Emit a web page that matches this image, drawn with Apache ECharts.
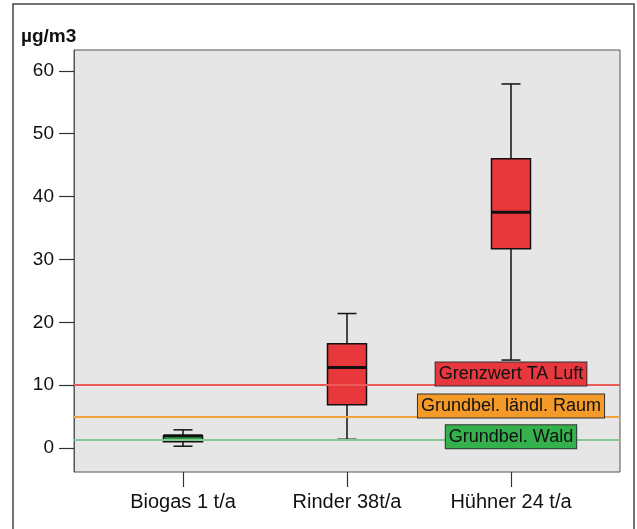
<!DOCTYPE html>
<html lang="de" style="height: 100%">
<head>
  <meta charset="utf-8">
</head>
<body style="height: 100%; margin: 0; background: #fff">
  <div id="container" style="height: 100%"></div>
  <script type="text/javascript" src="https://fastly.jsdelivr.net/npm/echarts@6/dist/echarts.min.js"></script>
  <script type="text/javascript">
    // categories and box values [min, Q1, median, Q3, max]
    const categories = ['Biogas 1 t/a', 'Rinder 38t/a', 'Hühner 24 t/a'];
    const boxValues = [
      [0.3, 1.0, 1.95, 1.95, 2.9],
      [1.4, 6.9, 12.8, 16.6, 21.4],
      [14, 31.7, 37.5, 46, 57.9]
    ];
    const boxColors = ['#2c9c40', '#e8383c', '#e8383c'];
    const yTicks = [0, 10, 20, 30, 40, 50, 60];

    // reference lines and their labels
    const refValues = [10, 5, 1.3];
    const refColors = ['#ec5a5a', '#f2a23a', '#86c994'];
    const refNames = ['Grenzwert TA Luft', 'Grundbel. ländl. Raum', 'Grundbel. Wald'];
    const refLabelY = [11.8, 6.7, 1.8];
    const refLabelBg = ['#e8383f', '#f39a28', '#34b04c'];

    var dom = document.getElementById('container');
    var myChart = echarts.init(dom, null, { renderer: 'canvas' });

    const yMin = -3.8, yMax = 63.3;
    const boxW = 39, capW = 19;
    const font = 'Liberation Sans, Arial';

    function renderBox(params, api) {
      const idx = api.value(0);
      const v = [1, 2, 3, 4, 5].map(d => api.value(d));
      const p = v.map(val => api.coord([idx, val]));
      const cx = p[0][0];
      const line = { stroke: '#111', lineWidth: 1.5 };
      return {
        type: 'group',
        children: [
          // whiskers
          { type: 'line', shape: { x1: cx, y1: p[0][1], x2: cx, y2: p[1][1] }, style: line },
          { type: 'line', shape: { x1: cx, y1: p[3][1], x2: cx, y2: p[4][1] }, style: line },
          { type: 'line', shape: { x1: cx - capW / 2, y1: p[0][1], x2: cx + capW / 2, y2: p[0][1] }, style: line },
          { type: 'line', shape: { x1: cx - capW / 2, y1: p[4][1], x2: cx + capW / 2, y2: p[4][1] }, style: line },
          // box
          {
            type: 'rect',
            shape: { x: cx - boxW / 2, y: p[3][1], width: boxW, height: p[1][1] - p[3][1] },
            style: { fill: boxColors[params.dataIndex], stroke: '#111', lineWidth: 1.5 }
          },
          // median
          { type: 'line', shape: { x1: cx - boxW / 2, y1: p[2][1], x2: cx + boxW / 2, y2: p[2][1] }, style: { stroke: '#111', lineWidth: 3 } }
        ]
      };
    }

    var option = {
      animation: false,
      graphic: [{
        type: 'rect',
        shape: { x: 13, y: 4, width: 621, height: 540 },
        style: { fill: 'none', stroke: '#444', lineWidth: 1.5 },
        z: -10
      }],
      title: {
        text: 'µg/m3',
        left: 16,
        top: 22,
        textStyle: { fontFamily: font, fontSize: 19, fontWeight: 'bold', color: '#111' }
      },
      grid: [
        { left: 74, right: 17, top: 50, bottom: 57, show: true, backgroundColor: '#e6e6e6', borderColor: '#555', borderWidth: 1 },
        { left: 101, right: 44, top: 50, bottom: 57 }
      ],
      xAxis: [
        { gridIndex: 0, type: 'value', min: 0, max: 1, show: false },
        {
          gridIndex: 1,
          type: 'category',
          data: categories,
          axisLine: { show: false, onZero: false },
          axisTick: { show: true, length: 15, alignWithLabel: true, lineStyle: { color: '#333', width: 1.2 } },
          axisLabel: { margin: 20, fontSize: 20, color: '#111', fontFamily: font }
        }
      ],
      yAxis: [
        {
          gridIndex: 0,
          type: 'value',
          min: yMin,
          max: yMax,
          splitLine: { show: false },
          axisLine: { show: true, lineStyle: { color: '#555' } },
          axisTick: { show: true, length: 15, customValues: yTicks, lineStyle: { color: '#333', width: 1.2 } },
          axisLabel: { margin: 20, fontSize: 19, color: '#111', customValues: yTicks, fontFamily: font }
        },
        { gridIndex: 1, type: 'value', min: yMin, max: yMax, show: false }
      ],
      series: [
        {
          type: 'line',
          xAxisIndex: 0,
          yAxisIndex: 0,
          data: [],
          markLine: {
            silent: true,
            symbol: 'none',
            label: { show: false },
            data: refValues.map((v, i) => ({
              yAxis: v,
              lineStyle: { color: refColors[i], width: 2, type: 'solid' }
            }))
          }
        },
        {
          type: 'custom',
          xAxisIndex: 1,
          yAxisIndex: 1,
          renderItem: renderBox,
          encode: { x: 0, y: [1, 2, 3, 4, 5] },
          data: boxValues.map((v, i) => [i].concat(v)),
          z: 3
        },
        {
          type: 'scatter',
          xAxisIndex: 1,
          yAxisIndex: 1,
          symbolSize: 0,
          itemStyle: { opacity: 1 },
          data: refNames.map((n, i) => ({
            value: [categories[2], refLabelY[i]],
            label: {
              show: true,
              position: 'inside',
              formatter: n,
              fontSize: 18,
              color: '#111',
              fontFamily: font,
              backgroundColor: refLabelBg[i],
              borderColor: '#333',
              borderWidth: 1,
              padding: [3, 3, 2, 3]
            }
          })),
          z: 6
        }
      ]
    };

    myChart.setOption(option);
    window.addEventListener('resize', myChart.resize);
  </script>
</body>
</html>
